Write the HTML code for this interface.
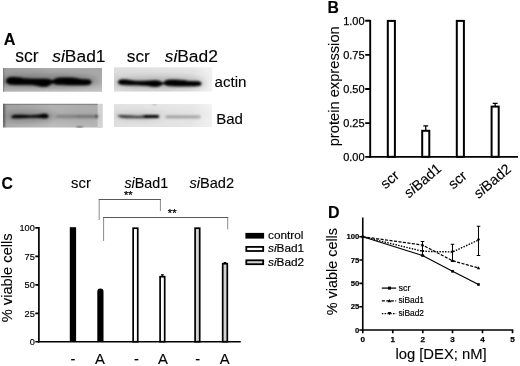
<!DOCTYPE html>
<html><head><meta charset="utf-8"><title>Figure</title>
<style>
html,body{margin:0;padding:0;background:#fff;}
body{width:520px;height:366px;overflow:hidden;}
svg{display:block;filter:blur(0.3px);font-family:"Liberation Sans",sans-serif;fill:#000;}
.b{font-weight:bold;}
.i{font-style:italic;}
text{stroke:#000;stroke-width:.12px;}
.s2 text,text.s2{stroke-width:.18px;}
.s3 text,text.s3{stroke-width:.25px;}
</style></head><body>
<svg width="520" height="366" viewBox="0 0 520 366">
<defs>
<filter id="bl1" x="-20%" y="-50%" width="140%" height="200%"><feGaussianBlur stdDeviation="1.3"/></filter>
<filter id="bl2" x="-20%" y="-50%" width="140%" height="200%"><feGaussianBlur stdDeviation="1"/></filter>
<filter id="bl3" x="-20%" y="-100%" width="140%" height="300%"><feGaussianBlur stdDeviation="1.6"/></filter>
<filter id="bl4" x="-30%" y="-150%" width="160%" height="400%"><feGaussianBlur stdDeviation="3"/></filter>
<filter id="bl5" x="-200%" y="-20%" width="500%" height="140%"><feGaussianBlur stdDeviation="0.6"/></filter>
<filter id="bl6" x="-200%" y="-20%" width="500%" height="140%"><feGaussianBlur stdDeviation="0.8"/></filter>
<filter id="bl7" x="-20%" y="-100%" width="140%" height="300%"><feGaussianBlur stdDeviation="0.9"/></filter>
<linearGradient id="gA3v" x1="0" y1="0" x2="0" y2="1"><stop offset="0" stop-color="#fff" stop-opacity="0.250"/><stop offset="0.4" stop-color="#fff" stop-opacity="0"/><stop offset="1" stop-color="#fff" stop-opacity="0.150"/></linearGradient>
<linearGradient id="gA1" x1="0" y1="0" x2="0" y2="1"><stop offset="0" stop-color="#acacac"/><stop offset="0.6" stop-color="#b6b6b6"/><stop offset="1" stop-color="#cacaca"/></linearGradient>
<linearGradient id="gA1h" x1="0" y1="0" x2="1" y2="0"><stop offset="0" stop-color="#000" stop-opacity="0.100"/><stop offset="0.5" stop-color="#000" stop-opacity="0"/><stop offset="1" stop-color="#000" stop-opacity="0.040"/></linearGradient>
<linearGradient id="gA2" x1="0" y1="0" x2="0" y2="1"><stop offset="0" stop-color="#b0b0b0"/><stop offset="0.5" stop-color="#b6b6b6"/><stop offset="1" stop-color="#bebebe"/></linearGradient>
<linearGradient id="gA3" x1="0" y1="0" x2="1" y2="0"><stop offset="0" stop-color="#d6d6d6"/><stop offset="0.8" stop-color="#dedede"/><stop offset="1" stop-color="#f0f0f0"/></linearGradient>
<linearGradient id="gA4" x1="0" y1="0" x2="1" y2="0"><stop offset="0" stop-color="#dadada"/><stop offset="0.8" stop-color="#e2e2e2"/><stop offset="1" stop-color="#f0f0f0"/></linearGradient>
<clipPath id="c1"><rect x="3" y="68" width="99" height="23.800"/></clipPath>
<clipPath id="c2"><rect x="3" y="103.700" width="99.600" height="24"/></clipPath>
<clipPath id="c3"><rect x="114" y="67.200" width="98.500" height="24.500"/></clipPath>
<clipPath id="c4"><rect x="113.700" y="104" width="98.300" height="23"/></clipPath>
</defs>

<!-- ================= Panel A ================= -->
<text class="b" x="3.700" y="44.600" font-size="16.200">A</text>
<text x="15.300" y="61.800" font-size="17.500">scr</text>
<text x="52.300" y="61.800" font-size="17.400"><tspan class="i">si</tspan>Bad1</text>
<text x="126.800" y="61.800" font-size="17.200">scr</text>
<text x="164.700" y="61.800" font-size="17.400"><tspan class="i">si</tspan>Bad2</text>
<text x="214.600" y="86.800" font-size="15.100">actin</text>
<text x="216.200" y="124" font-size="15">Bad</text>

<g clip-path="url(#c1)">
<rect x="3" y="68" width="99" height="24" fill="url(#gA1)"/>
<rect x="3" y="68" width="99" height="24" fill="url(#gA1h)"/>
<rect x="2.800" y="68" width="1.600" height="24" fill="#777" opacity="0.600" filter="url(#bl5)"/>
<ellipse cx="48" cy="81" rx="50" ry="7" fill="#000" opacity="0.280" filter="url(#bl4)"/>
<g filter="url(#bl1)">
<path d="M6.300 80.800C6.500 78 9 77.200 13 77.200C18 77.200 22 78.300 27 78.800C33 79.200 40 78.800 46 79C50 79.200 51 80.300 52.500 80.300C54 80.300 55 78 59 77.900C64 77.800 72 77.800 76 78.300C79 79 81 79.600 84 79.500C88 79.300 91.200 80 91.300 82C91.400 84.500 88 85 84 85C76 85.100 64 85 58 84.500C55 84.300 54 83.200 52.500 83.200C51 83.200 50 86.300 44 86.600C40 86.800 37 85.200 33 84.800C26 84.500 18 84.800 12 84.500C8.500 84.300 6.100 83.300 6.300 80.800Z" fill="#000" stroke="#000" stroke-width="0.600"/>
</g>
</g>
<g clip-path="url(#c2)">
<rect x="3" y="103.700" width="99.600" height="24" fill="url(#gA2)"/>
<rect x="3" y="103.700" width="99.600" height="24" fill="url(#gA1h)"/>
<rect x="97.600" y="103.700" width="5" height="24" fill="#d2d2d2"/>
<rect x="3" y="103" width="94.600" height="1.600" fill="#000" opacity="0.350" filter="url(#bl5)"/>
<rect x="2.400" y="103.700" width="2.200" height="24" fill="#333" opacity="0.800" filter="url(#bl6)"/>
<ellipse cx="30" cy="116.400" rx="26" ry="5" fill="#000" opacity="0.250" filter="url(#bl4)"/>
<ellipse cx="76" cy="116.500" rx="24" ry="3.500" fill="#000" opacity="0.100" filter="url(#bl4)"/>
<g filter="url(#bl2)">
<path d="M11.300 116.500C12 114.800 16 114.500 21 114.800C27 115.200 33 115.400 38 114.800C41 114.300 44 113.500 46.500 114C49 114.600 49.200 116.800 47.800 117.800C46 119 41 118.200 37 117.800C31 117.400 25 117.800 20 118.200C16 118.500 12.500 118.500 11.500 117.500C11.200 117.200 11.100 116.900 11.300 116.500Z" fill="#000"/>
<rect x="56" y="115" width="41" height="3" rx="1.500" fill="#000" opacity="0.220"/>
<rect x="76" y="115.300" width="20" height="2.200" rx="1.100" fill="#000" opacity="0.100"/>
<circle cx="96.600" cy="116.200" r="1.300" fill="#222"/>
<rect x="76.500" y="126.700" width="6" height="2" fill="#555"/>
</g>
</g>
<g clip-path="url(#c3)">
<rect x="114" y="67.200" width="98.500" height="24.500" fill="url(#gA3)"/>
<rect x="114" y="67.200" width="98.500" height="24.500" fill="url(#gA3v)"/>
<ellipse cx="160" cy="83" rx="46" ry="6" fill="#000" opacity="0.180" filter="url(#bl4)"/>
<g filter="url(#bl2)">
<path d="M118.200 82C118.500 80 121 79.600 125 79.800C129 80 132 81 137 81.200C143 81.300 149 81 154 80.700C158 80.600 160 81.200 161 82C162 82.700 162.500 82.800 163.200 82.800C164 82.800 165 80.200 169 80C174 79.800 180 80 184 80.600C187 81.200 189 81.700 192 81.500C196 81.200 201 81.300 201.300 83.500C201.500 85.500 198 85.900 194 85.900C188 86 176 86.200 170 85.800C166 85.500 164.500 84 163.200 84C162 84 161 86.200 156 86.500C152 86.700 149 85.600 145 85.300C139 85 130 85.200 125 84.800C121 84.500 118 84 118.200 82Z" fill="#000" stroke="#000" stroke-width="0.800"/>
</g>
</g>
<g clip-path="url(#c4)">
<rect x="113.700" y="104" width="98.300" height="23" fill="url(#gA4)"/>
<rect x="113.700" y="104" width="98.300" height="23" fill="url(#gA3v)"/>
<ellipse cx="140" cy="116.300" rx="24" ry="3" fill="#000" opacity="0.120" filter="url(#bl4)"/>
<g filter="url(#bl7)">
<path d="M117.500 115.200C124 114.600 130 115.500 136 115.700C140 115.800 143 115.400 146 115L158 115.200L159.500 116.500L158 117.700L146 118.200C140 118.400 130 118.400 124 118C121 117.700 117.500 116.800 117.500 115.200Z" fill="#3a3a3a"/>
<rect x="143.500" y="115" width="15.500" height="2.900" rx="1.400" fill="#000"/>
<rect x="165.500" y="115.600" width="35" height="2.700" rx="1.300" fill="#000" opacity="0.300"/>
<rect x="152.500" y="103.300" width="4" height="1.400" fill="#000" opacity="0.300"/>
</g>
</g>

<!-- ================= Panel B ================= -->
<text class="b" x="327.600" y="12.700" font-size="15.800">B</text>
<g stroke="#000" stroke-width="1.900" fill="none">
<path d="M370.200 19.900V157.800"/>
<path d="M369.300 156.900H518"/>
<path d="M365.200 20.800H370M365.200 54.900H370M365.200 89H370M365.200 123.100H370M365.200 156.900H370"/>
</g>
<g font-size="11" text-anchor="end" class="s3">
<text x="364.600" y="24.500">1.00</text>
<text x="364.600" y="58.600">0.75</text>
<text x="364.600" y="92.700">0.50</text>
<text x="364.600" y="126.800">0.25</text>
<text x="364.600" y="160.700">0.00</text>
</g>
<text transform="translate(339,146.300) rotate(-90)" font-size="14.700">protein expression</text>
<g stroke="#000" stroke-width="2" fill="#fff">
<rect x="387.800" y="20.900" width="7.100" height="135.900"/>
<rect x="422.200" y="130.800" width="7.100" height="26"/>
<rect x="456.800" y="20.900" width="7.100" height="135.900"/>
<rect x="491.600" y="106.600" width="7.100" height="50.200"/>
</g>
<g stroke="#000" stroke-width="1.300" fill="none">
<path d="M425.750 130V125.800M423.300 125.800H428.200"/>
<path d="M495.150 106V103.400M492.700 103.400H497.600"/>
</g>
<g font-size="14.300" text-anchor="end">
<text transform="translate(400,177) rotate(-40.500)">scr</text>
<text transform="translate(442.300,170) rotate(-40.500)"><tspan class="i">si</tspan>Bad1</text>
<text transform="translate(467.800,177.300) rotate(-40.500)">scr</text>
<text transform="translate(512,170.500) rotate(-40.500)"><tspan class="i">si</tspan>Bad2</text>
</g>

<!-- ================= Panel C ================= -->
<text class="b" x="1.500" y="188.800" font-size="15.800">C</text>
<text x="71.100" y="188.200" font-size="14.800">scr</text>
<text x="124.400" y="187.900" font-size="14.300"><tspan class="i">si</tspan>Bad1</text>
<text x="189.400" y="187.900" font-size="14.600"><tspan class="i">si</tspan>Bad2</text>
<g stroke="#8a8a8a" stroke-width="1" fill="none">
<path d="M99.200 220V199.500M160.400 199.500V211"/>
<path d="M103.600 241V217.500M227.700 217.500V229.300"/>
</g>
<g stroke="#585858" stroke-width="1" fill="none">
<path d="M98.700 199.500H160.900"/>
<path d="M103.100 217.500H228.200"/>
</g>
<text x="124" y="198.600" font-size="11.200" class="s3">**</text>
<text x="167.800" y="217.300" font-size="11.200" class="s3">**</text>
<g stroke="#000" stroke-width="1.700" fill="none">
<path d="M38.900 227.100V342.600"/>
<path d="M38.050 341.750H240.750"/>
<path d="M35.300 227.900H39M35.300 256.400H39M35.300 284.900H39M35.300 313.400H39M35.300 341.750H39"/>
</g>
<g font-size="9.200" text-anchor="end" class="s2">
<text x="34.800" y="231.200">100</text>
<text x="34.800" y="259.700">75</text>
<text x="34.800" y="288.200">50</text>
<text x="34.800" y="316.700">25</text>
<text x="34.800" y="345">0</text>
</g>
<text transform="translate(12.400,322.300) rotate(-90)" font-size="14.700">% viable cells</text>
<rect x="69.800" y="227.200" width="6.300" height="114.600" fill="#000"/>
<path d="M97.300 341.750V291.500Q97.300 288.500 100.400 288.500Q103.500 288.500 103.500 291.500V341.750Z" fill="#000"/>
<g stroke="#000" stroke-width="1.700">
<rect x="133.150" y="228.200" width="4.600" height="113.550" fill="#fff"/>
<rect x="160.100" y="276.700" width="4.600" height="65" fill="#fff"/>
<rect x="195.100" y="228.200" width="4.600" height="113.550" fill="#d2d2d2"/>
<rect x="222.700" y="263.700" width="4.600" height="78" fill="#d2d2d2"/>
</g>
<path d="M162.400 276.700V274.900M161 274.900H163.800M225 263.500V262.600M223.700 262.600H226.300" stroke="#000" stroke-width="1.100" fill="none"/>
<g font-size="14.800" text-anchor="middle">
<text x="73" y="363.500">-</text>
<text x="100" y="363.500">A</text>
<text x="136.400" y="363.500">-</text>
<text x="163" y="363.500">A</text>
<text x="197.600" y="363.500">-</text>
<text x="224.700" y="363.500">A</text>
</g>
<rect x="245.400" y="232.900" width="18.700" height="5.700" fill="#000"/>
<rect x="246.300" y="246.900" width="16.900" height="4.100" fill="#fff" stroke="#000" stroke-width="1.800"/>
<rect x="246.300" y="260.300" width="16.900" height="3.900" fill="#d2d2d2" stroke="#000" stroke-width="1.800"/>
<g font-size="11.800" class="s2">
<text x="268" y="239">control</text>
<text x="268" y="252.300"><tspan class="i">si</tspan>Bad1</text>
<text x="268" y="265.800"><tspan class="i">si</tspan>Bad2</text>
</g>

<!-- ================= Panel D ================= -->
<text class="b" x="327.900" y="218.300" font-size="16">D</text>
<g stroke="#000" stroke-width="1.600" fill="none">
<path d="M362.750 217.500V331"/>
<path d="M362 330H513.300"/>
<path d="M359.300 236.750H363M359.300 260H363M359.300 283.400H363M359.300 306.700H363M359.300 330H363"/>
<path d="M362.750 330V333.300M392.750 330V333.300M422.750 330V333.300M452.500 330V333.300M482.500 330V333.300M512.500 330V333.300"/>
</g>
<g font-size="7.700" class="b s2" text-anchor="end">
<text x="359.300" y="239.400">100</text>
<text x="359.300" y="262.700">75</text>
<text x="359.300" y="286">50</text>
<text x="359.300" y="309.400">25</text>
<text x="359.300" y="332.700">0</text>
</g>
<g font-size="8.100" class="b s3" text-anchor="middle">
<text x="362.750" y="342.300">0</text>
<text x="392.750" y="342.300">1</text>
<text x="422.750" y="342.300">2</text>
<text x="452.500" y="342.300">3</text>
<text x="482.500" y="342.300">4</text>
<text x="512.500" y="342.300">5</text>
</g>
<text transform="translate(336.500,315.200) rotate(-90)" font-size="14.400">% viable cells</text>
<text x="395.400" y="359.100" font-size="14.800">log [DEX; nM]</text>
<g stroke="#000" fill="none" stroke-width="1.250">
<path d="M362.750 236.750L422.500 255.500L452.500 271.250L478.500 284.500"/>
<path d="M362.750 236.750L422.500 245L452.500 260.750L478.500 268" stroke-dasharray="3.100 1.400"/>
<path d="M362.750 236.750L422.500 251.250L452.500 252L478.500 240" stroke-dasharray="1.500 1.300" stroke-width="1.400"/>
</g>
<g stroke="#000" fill="none" stroke-width="1.050">
<path d="M422.500 241.400V255.500M420.700 241.400H424.300M420.700 255.500H424.300"/>
<path d="M452.500 244.300V260.750M450.700 244.300H454.300M450.700 260.750H454.300"/>
<path d="M478.500 226.200V255.500M476.700 226.200H480.300M476.700 255.500H480.300"/>
</g>
<g fill="#000">
<rect x="361.500" y="235.500" width="2.600" height="2.600"/>
<rect x="421.200" y="254.200" width="2.600" height="2.600"/>
<rect x="451.200" y="270" width="2.600" height="2.600"/>
<rect x="477.200" y="283.200" width="2.600" height="2.600"/>
<path d="M422.500 243.300L424.200 246.300H420.800Z"/>
<path d="M452.500 259L454.200 262H450.800Z"/>
<path d="M478.500 266.300L480.200 269.300H476.800Z"/>
<path d="M422.500 252.900L424.200 249.900H420.800Z"/>
<path d="M452.500 253.700L454.200 250.700H450.800Z"/>
<path d="M478.500 241.700L480.200 238.700H476.800Z"/>
</g>
<g stroke="#000" fill="none" stroke-width="1.250">
<path d="M381.800 288.100H396.200"/>
<path d="M381.800 300.900H396.200" stroke-dasharray="3.100 1.400"/>
<path d="M381.800 313.500H396.200" stroke-dasharray="1.500 1.300"/>
</g>
<rect x="388" y="286.600" width="3" height="3"/>
<path d="M389.500 299L391.400 302.300H387.600Z"/>
<path d="M389.500 315.300L391.400 312H387.600Z"/>
<g font-size="8.400" class="s2">
<text x="398.500" y="290.600" font-size="9">scr</text>
<text x="398.400" y="303.200">siBad1</text>
<text x="398.400" y="316.400">siBad2</text>
</g>
</svg>
</body></html>
